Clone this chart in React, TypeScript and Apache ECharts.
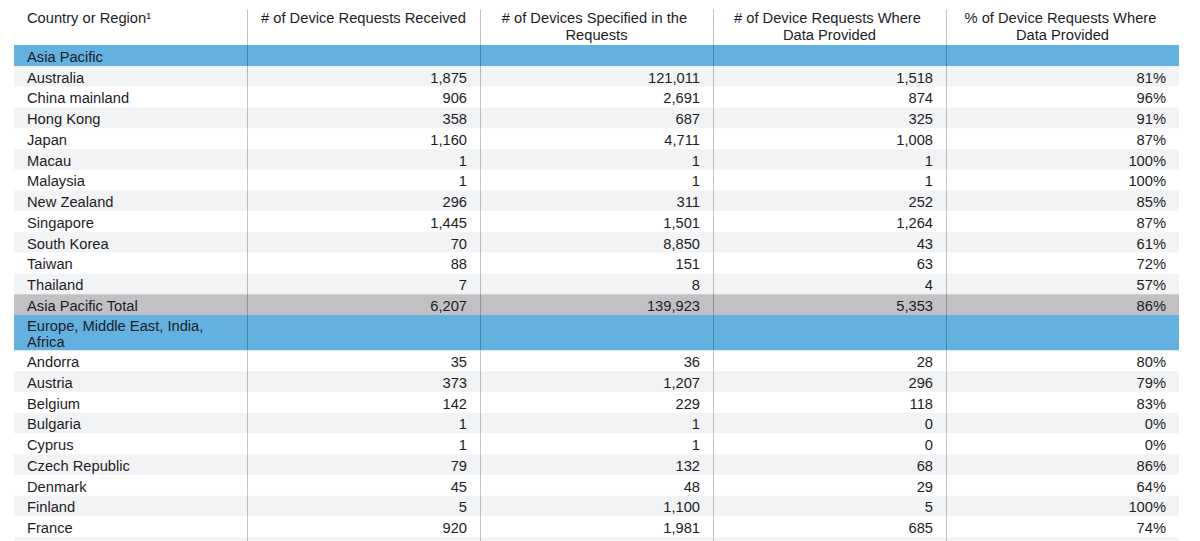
import React, { useEffect, useRef } from "react";
import * as echarts from "echarts";

// ---------- data ----------
const headers = [
  "Country or Region¹",
  "# of Device Requests Received",
  "# of Devices Specified in the Requests",
  "# of Device Requests Where Data Provided",
  "% of Device Requests Where Data Provided",
];

const apRegion = "Asia Pacific";
const apCountries = ["Australia", "China mainland", "Hong Kong", "Japan", "Macau", "Malaysia", "New Zealand", "Singapore", "South Korea", "Taiwan", "Thailand"];
const apReceived = [1875, 906, 358, 1160, 1, 1, 296, 1445, 70, 88, 7];
const apSpecified = [121011, 2691, 687, 4711, 1, 1, 311, 1501, 8850, 151, 8];
const apProvided = [1518, 874, 325, 1008, 1, 1, 252, 1264, 43, 63, 4];
const apPercent = [81, 96, 91, 87, 100, 100, 85, 87, 61, 72, 57];
const apTotalLabel = "Asia Pacific Total";
const apTotal = [6207, 139923, 5353, 86];

const emeaRegion = "Europe, Middle East, India, Africa";
const emeaCountries = ["Andorra", "Austria", "Belgium", "Bulgaria", "Cyprus", "Czech Republic", "Denmark", "Finland", "France"];
const emeaReceived = [35, 373, 142, 1, 1, 79, 45, 5, 920];
const emeaSpecified = [36, 1207, 229, 1, 1, 132, 48, 1100, 1981];
const emeaProvided = [28, 296, 118, 0, 0, 68, 29, 5, 685];
const emeaPercent = [80, 79, 83, 0, 0, 86, 64, 100, 74];

// ---------- styling / layout ----------
const FONT_FAMILY = '"Liberation Sans", Arial, sans-serif';
const FONT_SIZE = 14.7;
const FONT = `${FONT_SIZE}px ${FONT_FAMILY}`;
const TEXT = "#1d1d1f";
const BLUE = "#62b1e0";
const TOTAL_GRAY = "#c1c1c3";
const STRIPE = "#f2f3f5";
const DIVIDER = "rgba(0,0,0,0.24)";
const PAD = 13;
const NCOLS = 5;
const ROW_H = 20.75;
const HEADER_H = 45;
const HEADER_TOP = 9.5;

const fmt = (v: number) => v.toLocaleString("en-US");

type Row = { kind: "header" | "region" | "data" | "total" | "blank"; cells: string[] };

function measure(text: string): number {
  const c = document.createElement("canvas").getContext("2d");
  if (!c) return text.length * 7;
  c.font = FONT;
  return c.measureText(text).width;
}

function buildRows(): Row[] {
  const rows: Row[] = [];
  rows.push({ kind: "header", cells: headers });
  rows.push({ kind: "region", cells: [apRegion, "", "", "", ""] });
  apCountries.forEach((c, i) =>
    rows.push({ kind: "data", cells: [c, fmt(apReceived[i]), fmt(apSpecified[i]), fmt(apProvided[i]), apPercent[i] + "%"] })
  );
  rows.push({ kind: "total", cells: [apTotalLabel, fmt(apTotal[0]), fmt(apTotal[1]), fmt(apTotal[2]), apTotal[3] + "%"] });
  rows.push({ kind: "region", cells: [emeaRegion, "", "", "", ""] });
  emeaCountries.forEach((c, i) =>
    rows.push({ kind: "data", cells: [c, fmt(emeaReceived[i]), fmt(emeaSpecified[i]), fmt(emeaProvided[i]), emeaPercent[i] + "%"] })
  );
  rows.push({ kind: "blank", cells: ["", "", "", "", ""] });
  return rows;
}

export default function App() {
  const ref = useRef<HTMLDivElement>(null);

  useEffect(() => {
    if (!ref.current) return;
    const chart = echarts.init(ref.current, undefined, { renderer: "svg" });
    const rows = buildRows();

    // vertical layout
    const spans: [number, number, number][] = [];
    let y = 0;
    rows.forEach((r, i) => {
      let h = ROW_H;
      if (r.kind === "header") h = HEADER_H;
      else if (r.kind === "region") {
        const lines = measure(r.cells[0]) > 233 - 2 * PAD ? 2 : 1;
        h = lines === 2 ? 35.5 : 21;
      }
      spans.push([y, y + h, i]);
      y += h;
    });

    const renderItem = (params: any, api: any) => {
      const y0v = api.value(0);
      const y1v = api.value(1);
      const idx = api.value(2);
      const row = rows[idx];
      const top = api.coord([0, y0v])[1];
      const bot = api.coord([0, y1v])[1];
      const xs: number[] = [];
      for (let c = 0; c <= NCOLS; c++) xs.push(api.coord([c, 0])[0]);
      const colW = xs[1] - xs[0];
      const children: any[] = [];

      let fill = "#ffffff";
      if (row.kind === "region") fill = BLUE;
      else if (row.kind === "total") fill = TOTAL_GRAY;
      else if (row.kind === "data" || row.kind === "blank") fill = idx % 2 === 0 ? STRIPE : "#ffffff";

      if (row.kind !== "header") {
        children.push({
          type: "rect",
          shape: { x: xs[0], y: top, width: xs[NCOLS] - xs[0], height: bot - top },
          style: { fill },
        });
      }

      // dividers
      for (let c = 1; c < NCOLS; c++) {
        const yTop = row.kind === "header" ? top + HEADER_TOP : top;
        children.push({
          type: "line",
          shape: { x1: Math.round(xs[c]) + 0.5, y1: yTop, x2: Math.round(xs[c]) + 0.5, y2: bot },
          style: { stroke: DIVIDER, lineWidth: 1 },
        });
      }

      const midY = (top + bot) / 2 + 1.2;
      row.cells.forEach((t, c) => {
        if (!t) return;
        if (row.kind === "header") {
          if (c === 0) {
            children.push({
              type: "text",
              style: { text: t, x: xs[0] + PAD, y: top + HEADER_TOP, align: "left", verticalAlign: "top", font: FONT, fill: TEXT, lineHeight: 17 },
            });
          } else {
            children.push({
              type: "text",
              style: {
                text: t, x: (xs[c] + xs[c + 1]) / 2, y: top + HEADER_TOP, align: "center", verticalAlign: "top",
                font: FONT, fill: TEXT, lineHeight: 17, width: colW - 2 * PAD + 8, overflow: "break",
              },
            });
          }
        } else if (c === 0) {
          children.push({
            type: "text",
            style: {
              text: t, x: xs[0] + PAD, y: midY, align: "left", verticalAlign: "middle",
              font: FONT, fill: TEXT, lineHeight: 16, width: colW - 2 * PAD, overflow: "break",
            },
          });
        } else {
          children.push({
            type: "text",
            style: { text: t, x: xs[c + 1] - PAD, y: midY, align: "right", verticalAlign: "middle", font: FONT, fill: TEXT },
          });
        }
      });

      return { type: "group", children };
    };

    chart.setOption({
      animation: false,
      backgroundColor: "#ffffff",
      grid: { left: 14, right: 21, top: 0, bottom: 0 },
      xAxis: { type: "value", min: 0, max: NCOLS, show: false },
      yAxis: { type: "value", min: 0, max: 541, inverse: true, show: false },
      series: [
        {
          type: "custom",
          renderItem,
          clip: true,
          data: spans,
          encode: { x: [], y: [0, 1] },
        },
      ],
    });

    return () => chart.dispose();
  }, []);

  return (
    <div
      ref={ref}
      style={{ position: "absolute", left: 0, top: 0, width: 1200, height: 541, background: "#fff" }}
    />
  );
}
